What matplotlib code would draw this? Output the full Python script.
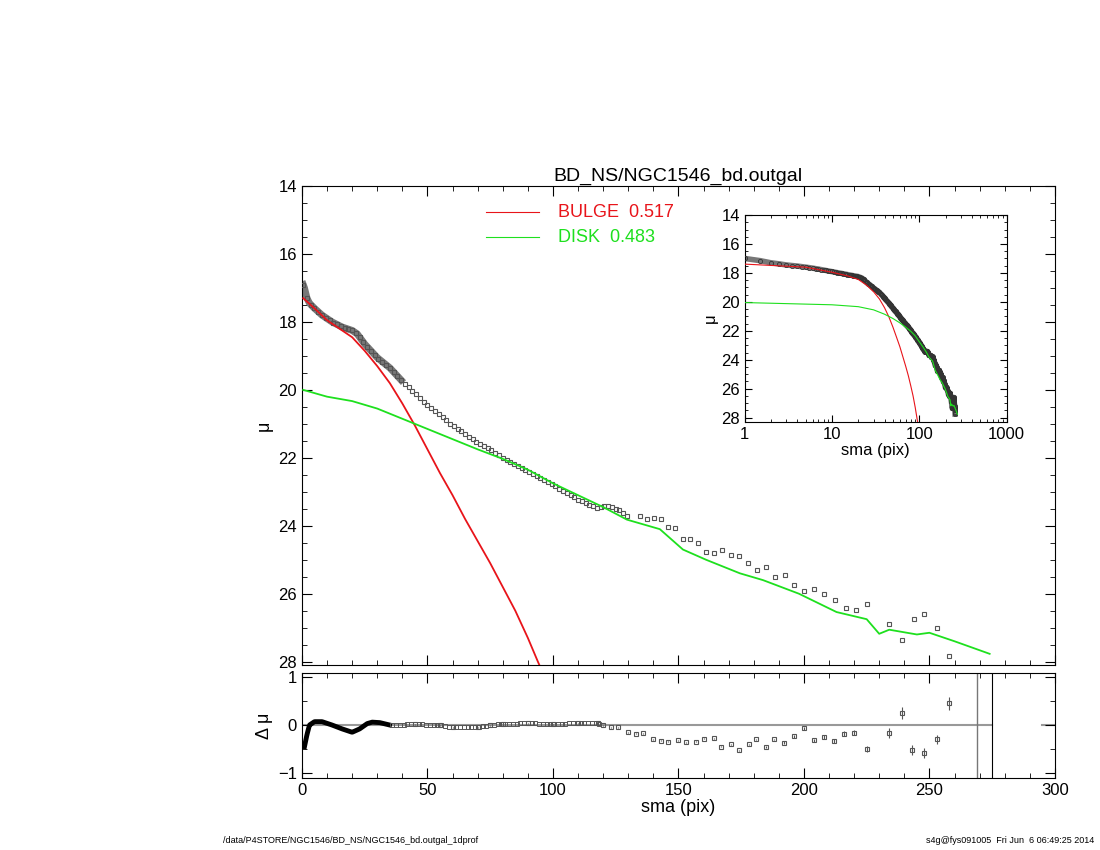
import matplotlib
matplotlib.use("Agg")
import matplotlib.pyplot as plt
import numpy as np
from matplotlib.ticker import AutoMinorLocator, LogLocator, NullFormatter

plt.rcParams['font.family'] = ['Liberation Sans', 'DejaVu Sans']

# observed profile
sma_obs = [0.5, 1, 2, 3, 5, 8, 12, 16, 20, 22, 25, 30, 35, 40, 45, 50, 55, 60, 65, 70, 75, 80,
           85, 90, 95, 100, 104, 111, 117.5, 122, 127, 129.4, 134.7, 137.4, 140.2, 143, 145.8,
           148.6, 151.7, 154.6, 157.8, 161, 164, 167.3, 170.9, 174, 177.7, 181.2, 184.9, 188.4,
           192.4, 196, 200, 204, 208, 212.4, 216.7, 220.7, 225, 234, 239, 243.8, 248, 253, 258]
mu_obs = [16.9, 17.0, 17.3, 17.45, 17.6, 17.8, 18.0, 18.15, 18.25, 18.35, 18.65, 19.05, 19.35,
          19.75, 20.1, 20.45, 20.75, 21.05, 21.3, 21.55, 21.75, 22.0, 22.2, 22.4, 22.6, 22.8,
          22.97, 23.27, 23.47, 23.41, 23.56, 23.7, 23.7, 23.8, 23.76, 23.8, 24.03, 24.08, 24.38,
          24.38, 24.5, 24.76, 24.8, 24.7, 24.85, 24.9, 25.1, 25.3, 25.2, 25.5, 25.46, 25.75,
          25.93, 25.87, 26.0, 26.2, 26.42, 26.48, 26.3, 26.9, 27.36, 26.75, 26.6, 27.0, 27.83]

# bulge model
sma_b = [0.5, 5, 10, 15, 20, 25, 30, 35, 40, 45, 50, 55, 60, 65, 70, 75, 80, 85, 90, 94, 100, 120]
mu_b = [17.3, 17.6, 17.95, 18.2, 18.45, 18.85, 19.3, 19.8, 20.4, 21.05, 21.75, 22.45, 23.1,
        23.8, 24.45, 25.1, 25.8, 26.5, 27.3, 28.0, 29.0, 32.0]

# disk model
sma_d = [0.5, 10, 20, 30, 40, 50, 60, 70, 80, 90, 100, 110, 120, 129.5, 142.6, 151.8, 161,
         174.5, 183.7, 198, 213, 225, 230, 234, 245, 250, 260, 274]
mu_d = [20.0, 20.2, 20.33, 20.55, 20.85, 21.15, 21.45, 21.75, 22.03, 22.35, 22.75, 23.1, 23.45,
        23.82, 24.1, 24.7, 25.0, 25.4, 25.6, 26.0, 26.54, 26.75, 27.18, 27.06, 27.2, 27.15,
        27.4, 27.77]

# residuals
sma_r = [1, 2, 3, 5, 8, 12, 16, 20, 23, 26, 28, 31, 35, 45, 55, 60, 70, 75, 80, 90, 100, 110,
         118, 120, 123, 126, 130, 133, 136, 140, 143, 146, 150, 153, 157, 160, 164, 167, 171,
         174, 178, 181, 185, 188, 192, 196, 200, 204, 208, 212, 216, 220, 225, 234, 239, 243,
         248, 253, 258]
d_mu = [-0.45, -0.2, 0.0, 0.07, 0.07, 0.0, -0.08, -0.15, -0.08, 0.03, 0.06, 0.05, 0.0, 0.02,
        0.0, -0.05, -0.05, 0.0, 0.02, 0.04, 0.02, 0.04, 0.04, 0.0, -0.05, -0.05, -0.15, -0.18,
        -0.17, -0.3, -0.33, -0.35, -0.32, -0.36, -0.35, -0.28, -0.27, -0.45, -0.4, -0.52, -0.4,
        -0.3, -0.45, -0.3, -0.37, -0.23, -0.07, -0.32, -0.25, -0.33, -0.18, -0.16, -0.5, -0.17,
        0.25, -0.52, -0.58, -0.3, 0.45]
d_err = [0.01] * 41 + [0.02, 0.02, 0.02, 0.03, 0.03, 0.03, 0.03, 0.04, 0.04, 0.05, 0.05, 0.06,
                       0.1, 0.12, 0.1, 0.1, 0.1, 0.14]

N_LINE = 13   # residual points drawn as thick line
N_DENSE = 32  # profile points sampled densely


def dense(x, y, step=1.0):
    xs = np.arange(min(x), max(x), step)
    return xs, np.interp(xs, x, y)


def style(ax):
    ax.tick_params(which='both', direction='in', top=True, right=True, labelsize=12)
    ax.tick_params(which='major', length=7)
    ax.tick_params(which='minor', length=3.5)
    for s in ax.spines.values():
        s.set_linewidth(0.8)


fig = plt.figure(figsize=(11, 8.5), dpi=100)
ax = fig.add_axes([0.2745, 0.2176, 0.6845, 0.5635])
axr = fig.add_axes([0.2745, 0.0847, 0.6845, 0.1235])
axi = fig.add_axes([0.677, 0.5035, 0.238, 0.2435])

xd, yd = dense(sma_obs[:14], mu_obs[:14], 0.5)
ax.plot(xd, yd, color='#777777', lw=5, zorder=2)
xd2, yd2 = dense(sma_obs[:N_DENSE], mu_obs[:N_DENSE], 1.5)
ax.plot(xd2, yd2, 's', ms=3.5, mfc='none', mec='#555555', mew=0.8, zorder=3)
ax.plot(sma_obs[N_DENSE - 1:], mu_obs[N_DENSE - 1:], 's', ms=3.5, mfc='none', mec='#555555',
        mew=0.8, zorder=3)
ax.plot(sma_b, mu_b, color='#e8141a', lw=1.3, zorder=4)
ax.plot(sma_d, mu_d, color='#1ee01e', lw=1.3, zorder=4)
ax.set_xlim(0, 300)
ax.set_ylim(28.1, 14)
ax.set_yticks([14, 16, 18, 20, 22, 24, 26, 28])
ax.set_xticks(np.arange(0, 301, 50))
ax.set_xticklabels([])
ax.xaxis.set_minor_locator(AutoMinorLocator(5))
ax.yaxis.set_minor_locator(AutoMinorLocator(4))
ax.set_ylabel('μ', fontsize=13)
ax.set_title('BD_NS/NGC1546_bd.outgal', fontsize=14, pad=4)
style(ax)
ax.plot([0.245, 0.315], [0.945, 0.945], transform=ax.transAxes, color='#e8141a', lw=0.8)
ax.plot([0.245, 0.315], [0.893, 0.893], transform=ax.transAxes, color='#1ee01e', lw=0.8)
ax.text(0.34, 0.945, 'BULGE  0.517', transform=ax.transAxes, color='#e8141a', fontsize=13, va='center')
ax.text(0.34, 0.893, 'DISK  0.483', transform=ax.transAxes, color='#1ee01e', fontsize=13, va='center')

# residual panel
xr, yr = dense(sma_r[:N_LINE], d_mu[:N_LINE], 0.3)
axr.plot(xr, yr, color='black', lw=3.5, zorder=3)
axr.errorbar(sma_r[N_LINE:], d_mu[N_LINE:], yerr=d_err[N_LINE:], fmt='s', ms=3.5, mfc='none',
             mec='#555555', mew=0.8, ecolor='#555555', elinewidth=0.8, capsize=0, zorder=3)
xs = np.arange(36, 120, 1.5)
axr.plot(xs, np.interp(xs, sma_r, d_mu), 's', ms=3.0, mfc='none', mec='#555555', mew=0.7, zorder=3)
axr.plot([0, 275], [0, 0], color='#999999', lw=1.5, zorder=1)
axr.plot([295, 300], [0, 0], color='#999999', lw=1.5, zorder=1)
axr.axvline(269, color='#777777', lw=1)
axr.axvline(275, color='black', lw=0.8)
axr.set_xlim(0, 300)
axr.set_ylim(-1.1, 1.08)
axr.set_yticks([-1, 0, 1])
axr.set_xticks(np.arange(0, 301, 50))
axr.xaxis.set_minor_locator(AutoMinorLocator(5))
axr.yaxis.set_minor_locator(AutoMinorLocator(2))
axr.set_xlabel('sma (pix)', fontsize=13, labelpad=1)
axr.set_ylabel('Δ μ', fontsize=13)
style(axr)

# inset
xl, yl = dense([1] + sma_obs[1:], [17.0] + mu_obs[1:], 0.5)
axi.plot(xl, yl, color='#777777', lw=4, zorder=2)
axi.plot(xl, yl, 'o', ms=3, mfc='none', mec='#333333', mew=0.6, zorder=3)
axi.plot(sma_b, mu_b, color='#e8141a', lw=0.8, zorder=4)
axi.plot(sma_d, mu_d, color='#1ee01e', lw=0.8, zorder=4)
axi.set_xscale('log')
axi.set_xlim(1, 1000)
axi.set_ylim(28.3, 14)
axi.set_yticks([14, 16, 18, 20, 22, 24, 26, 28])
axi.yaxis.set_minor_locator(AutoMinorLocator(4))
axi.set_xticks([1, 10, 100, 1000])
axi.set_xticklabels(['1', '10', '100', '1000'])
axi.xaxis.set_minor_locator(LogLocator(subs=np.arange(2, 10)))
axi.xaxis.set_minor_formatter(NullFormatter())
axi.set_xlabel('sma (pix)', fontsize=12, labelpad=1)
axi.set_ylabel('μ', fontsize=12, labelpad=2)
style(axi)
axi.tick_params(which='major', length=5)
axi.tick_params(which='minor', length=2.5)

fig.text(0.203, 0.008, '/data/P4STORE/NGC1546/BD_NS/NGC1546_bd.outgal_1dprof', fontsize=6.5)
fig.text(0.995, 0.008, 's4g@fys091005  Fri Jun  6 06:49:25 2014', fontsize=6.5, ha='right')

fig.savefig('out.png', dpi=100)
